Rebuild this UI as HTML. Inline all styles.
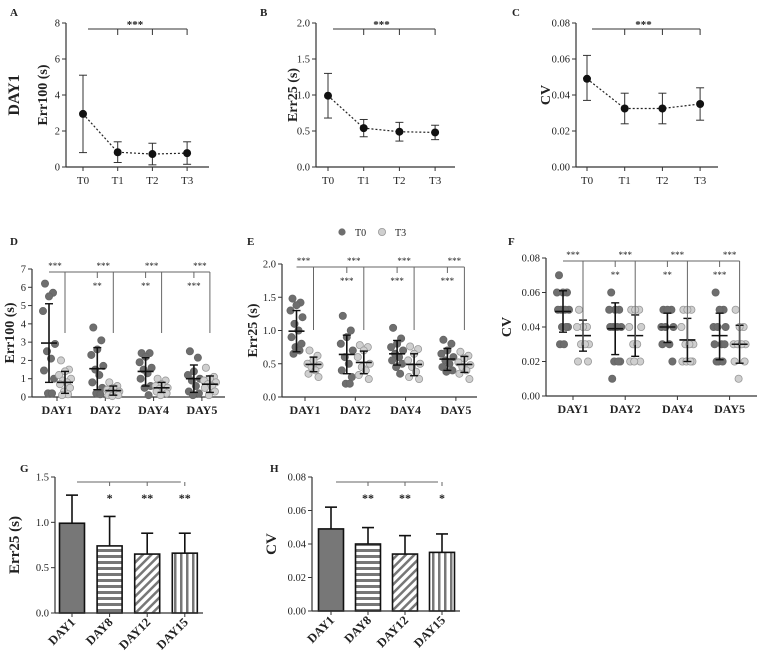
<!DOCTYPE html>
<html><head><meta charset="utf-8">
<style>
html,body{margin:0;padding:0;background:#fff;}
svg{display:block;font-family:"Liberation Serif",serif;}
</style></head>
<body>
<svg id="fig" width="760" height="661" viewBox="0 0 760 661" xmlns="http://www.w3.org/2000/svg">
<defs>
<pattern id="pH" width="6" height="6" patternUnits="userSpaceOnUse"><rect width="6" height="6" fill="#777"/><rect y="0" width="6" height="3" fill="#fff"/></pattern>
<pattern id="pD" width="6" height="6" patternUnits="userSpaceOnUse" patternTransform="rotate(45)"><rect width="6" height="6" fill="#fff"/><rect x="0" width="2.5" height="6" fill="#777"/></pattern>
<pattern id="pV" width="6" height="6" patternUnits="userSpaceOnUse"><rect width="6" height="6" fill="#fff"/><rect x="0" width="2.5" height="6" fill="#777"/></pattern>
</defs>
</svg>
<script>
// ---------- DATA ----------
const catsABC = ['T0','T1','T2','T3'];
const meanA = [2.95,0.82,0.72,0.77];
const loA = [0.8,0.25,0.12,0.15];
const hiA = [5.1,1.4,1.32,1.4];
const meanB = [0.99,0.54,0.49,0.48];
const loB = [0.68,0.42,0.36,0.38];
const hiB = [1.3,0.66,0.62,0.58];
const meanC = [0.049,0.0325,0.0325,0.035];
const loC = [0.037,0.024,0.024,0.026];
const hiC = [0.062,0.041,0.041,0.044];
const ticksA = [0,2,4,6,8];
const ticksB = [0,0.5,1.0,1.5,2.0];
const ticksC = [0,0.02,0.04,0.06,0.08];

const daysDEF = ['DAY1','DAY2','DAY4','DAY5'];
const D_T0 = [[6.2,5.7,5.5,4.7,2.9,2.5,2.1,1.45,1.0,0.2,0.2],[3.8,3.1,2.6,2.3,1.7,1.5,1.2,0.8,0.5,0.2,0.15],[2.4,2.4,2.2,1.9,1.6,1.5,1.3,1.0,0.6,0.5,0.1],[2.5,2.15,1.4,1.2,1.0,0.9,0.6,0.3,0.2,0.1]];
const D_T3 = [[2.0,1.5,1.4,1.2,1.0,0.9,0.8,0.7,0.5,0.3,0.15,0.1],[0.8,0.6,0.5,0.4,0.3,0.3,0.2,0.1,0.1,0.05],[1.0,0.9,0.7,0.6,0.5,0.45,0.35,0.3,0.2,0.1],[1.6,1.1,1.0,0.9,0.8,0.7,0.6,0.5,0.3,0.1]];
const D_mean0 = [2.95,1.55,1.4,1.0], D_lo0=[0.8,0.4,0.6,0.25], D_hi0=[5.1,2.7,2.15,1.75];
const D_mean3 = [0.8,0.35,0.5,0.7], D_lo3=[0.2,0.1,0.25,0.25], D_hi3=[1.4,0.6,0.8,1.15];
const D_ticks = [0,1,2,3,4,5,6,7];
const D_sigTop = ['***','***','***','***'];
const D_sigLow = ['','**','**','***'];

const E_T0 = [[1.48,1.42,1.38,1.3,1.2,1.1,1.0,0.9,0.8,0.75,0.7,0.65],[1.22,1.0,0.9,0.8,0.7,0.6,0.5,0.4,0.3,0.2,0.2],[1.04,0.88,0.8,0.75,0.7,0.65,0.6,0.55,0.5,0.45,0.35],[0.86,0.8,0.7,0.65,0.6,0.55,0.5,0.45,0.4,0.38]];
const E_T3 = [[0.7,0.62,0.55,0.5,0.48,0.45,0.4,0.35,0.3],[0.78,0.75,0.7,0.6,0.5,0.45,0.4,0.33,0.27],[0.76,0.72,0.65,0.55,0.5,0.45,0.38,0.3,0.27],[0.68,0.62,0.58,0.52,0.48,0.45,0.4,0.35,0.27]];
const E_mean0=[0.99,0.64,0.65,0.57], E_lo0=[0.68,0.35,0.48,0.4], E_hi0=[1.3,0.93,0.85,0.73];
const E_mean3=[0.49,0.52,0.49,0.49], E_lo3=[0.38,0.35,0.32,0.37], E_hi3=[0.6,0.69,0.65,0.61];
const E_ticks=[0,0.5,1.0,1.5,2.0];
const E_sigTop=['***','***','***','***'];
const E_sigLow=['','***','***','***'];

const F_T0 = [[0.07,0.06,0.06,0.06,0.05,0.05,0.05,0.05,0.04,0.04,0.04,0.03,0.03],[0.06,0.05,0.05,0.05,0.04,0.04,0.04,0.04,0.02,0.02,0.02,0.01],[0.05,0.05,0.05,0.04,0.04,0.04,0.03,0.03,0.02],[0.06,0.05,0.05,0.04,0.04,0.04,0.03,0.03,0.03,0.02,0.02,0.02]];
const F_T3 = [[0.05,0.04,0.04,0.04,0.03,0.03,0.03,0.02,0.02],[0.05,0.05,0.05,0.04,0.04,0.03,0.03,0.02,0.02,0.02],[0.05,0.05,0.05,0.04,0.03,0.03,0.03,0.02,0.02,0.02,0.02],[0.05,0.04,0.04,0.03,0.03,0.03,0.03,0.02,0.02,0.01]];
const F_mean0=[0.049,0.039,0.04,0.035], F_lo0=[0.037,0.024,0.031,0.021], F_hi0=[0.061,0.054,0.048,0.048];
const F_mean3=[0.035,0.035,0.0325,0.03], F_lo3=[0.026,0.023,0.02,0.019], F_hi3=[0.044,0.047,0.045,0.041];
const F_ticks=[0,0.02,0.04,0.06,0.08];
const F_sigTop=['***','***','***','***'];
const F_sigLow=['','**','**','***'];

const catsGH = ['DAY1','DAY8','DAY12','DAY15'];
const meanG = [0.99,0.74,0.65,0.66];
const errG = [1.3,1.065,0.88,0.88];
const ticksG = [0,0.5,1.0,1.5];
const sigG = ['','*','**','**'];
const meanH = [0.049,0.040,0.034,0.035];
const errH = [0.062,0.0498,0.045,0.046];
const ticksH = [0,0.02,0.04,0.06,0.08];
const sigH = ['','**','**','*'];

// ---------- HELPERS ----------
const svg = document.getElementById('fig');
const NS = 'http://www.w3.org/2000/svg';
function mk(tag, geo, parent){
  const e = document.createElementNS(NS, tag);
  for (const k in geo) e.setAttribute(k, geo[k]);
  (parent || svg).appendChild(e);
  return e;
}
function txt(x,y,s,size,anchor,weight,parent,rot){
  const t = mk('text',{x:x,y:y,'font-size':size,'text-anchor':anchor||'middle','font-weight':weight||'normal',fill:'#222'},parent);
  if (rot) t.setAttribute('transform','rotate('+rot+' '+x+' '+y+')');
  t.textContent = s;
  return t;
}
function line(x1,y1,x2,y2,w,col,parent){
  return mk('line',{x1:x1,y1:y1,x2:x2,y2:y2,stroke:col||'#333','stroke-width':w||1},parent);
}
function fmt(v,dec){ return v.toFixed(dec); }
function yAxis(g,ax,yTop,yBot,ymax,ticks,dec){
  const ys = v => yBot - v/ymax*(yBot-yTop);
  const a = line(ax,yTop,ax,yBot,1.2,'#333',g);
  
  
  ticks.forEach(v=>{
    const tk = line(ax-4,ys(v),ax,ys(v),1,'#333',g);
    
    
    const tl = txt(ax-6,ys(v)+3.5,fmt(v,dec),10.5,'end','normal',g);
    
    
  });
  return ys;
}
function group(name){
  const g = mk('g',{});
  
  
  return g;
}

// ---------- LINE PANELS A B C ----------
function linePanel(name,letter,lx,cfg,means,los,his,ticks,dec,ylab,extra){
  const g = group(name);
  const L = txt(lx,16,letter,11,'start','bold',g);
  
  
  const ys = yAxis(g,cfg.ax,cfg.yTop,cfg.yBot,ticks[ticks.length-1],ticks,dec);
  const xa = line(cfg.ax,cfg.yBot,cfg.axEnd,cfg.yBot,1.2,'#333',g);
  
  
  const xs = i => cfg.x0 + i*cfg.step;
  catsABC.forEach((c,i)=>{
    const tk = line(xs(i),cfg.yBot,xs(i),cfg.yBot+4,1,'#333',g);
    
    
    const tl = txt(xs(i),cfg.yBot+17,c,11,'middle','normal',g);
    
    
  });
  const yl = txt(cfg.ax-cfg.ylOff,(cfg.yTop+cfg.yBot)/2,ylab,14,'middle','bold',g,-90);
  
  
  const pts = means.map((m,i)=>xs(i)+','+ys(m)).join(' ');
  const pl = mk('polyline',{points:pts,fill:'none',stroke:'#222','stroke-width':1.2,'stroke-dasharray':'2,2'},g);
  
  
  means.forEach((m,i)=>{
    const x = xs(i);
    const e1 = line(x,ys(los[i]),x,ys(his[i]),1,'#333',g);
    
    
    const c1 = line(x-4,ys(los[i]),x+4,ys(los[i]),1,'#333',g);
    
    
    const c2 = line(x-4,ys(his[i]),x+4,ys(his[i]),1,'#333',g);
    
    
    const d = mk('circle',{cx:x,cy:ys(m),r:4,fill:'#111'},g);
    
    
  });
  const by = cfg.yTop+6;
  const br = line(xs(0)+5,by,xs(3),by,1,'#333',g);
  
  
  [1,2,3].forEach(i=>{
    const t = line(xs(i),by,xs(i),by+6,1,'#333',g);
    
    
  });
  const st = txt((xs(1)+xs(2))/2,by-1,'***',11,'middle','bold',g);
  
  
  if (extra) {
    const r = txt(extra.x,extra.y,extra.s,16,'middle','bold',g,-90);
    
    
  }
}
linePanel('panel-a','A',10,{ax:66,axEnd:209,yTop:23,yBot:167,x0:83,step:34.7,ylOff:19},meanA,loA,hiA,ticksA,0,'Err100 (s)',{x:19,y:95,s:'DAY1'});
linePanel('panel-b','B',260,{ax:316,axEnd:455,yTop:23,yBot:167,x0:328,step:35.7,ylOff:19},meanB,loB,hiB,ticksB,1,'Err25 (s)');
linePanel('panel-c','C',512,{ax:576,axEnd:718,yTop:23,yBot:167,x0:587,step:37.7,ylOff:26},meanC,loC,hiC,ticksC,2,'CV');

// ---------- SCATTER PANELS D E F ----------
const jit = [-4,4,0,-6,6,-2,2,-5,5,-1,3,-3,1];
function scatterPanel(name,letter,lx,ly,cfg,t0,t3,m0,lo0,hi0,m3,lo3,hi3,ticks,dec,ylab,sigTop,sigLow){
  const g = group(name);
  const L = txt(lx,ly,letter,11,'start','bold',g);
  
  
  const ymax = ticks[ticks.length-1];
  const ys = yAxis(g,cfg.ax,cfg.yTop,cfg.yBot,ymax,ticks,dec);
  const xa = line(cfg.ax,cfg.yBot,cfg.axEnd,cfg.yBot,1.2,'#333',g);
  
  
  const xc = i => cfg.c0 + i*cfg.step;
  daysDEF.forEach((d,i)=>{
    const tk = line(xc(i),cfg.yBot,xc(i),cfg.yBot+4,1,'#333',g);
    
    
    const tl = txt(xc(i),cfg.yBot+17,d,12,'middle','bold',g);
    
    
  });
  const yl = txt(cfg.ax-cfg.ylOff,(cfg.yTop+cfg.yBot)/2,ylab,14,'middle','bold',g,-90);
  
  
  function series(vals,mean,lo,hi,off,fill,stroke,tag){
    vals.forEach((arr,i)=>{
      const cx = xc(i)+off;
      arr.forEach((v,j)=>{
        const c = mk('circle',{cx:cx+jit[j%jit.length],cy:ys(v),r:3.6,fill:fill,stroke:stroke,'stroke-width':0.8},g);
        
        
      });
      const e = line(cx,ys(lo[i]),cx,ys(hi[i]),1.6,'#111',g);
      
      
      const m = line(cx-8,ys(mean[i]),cx+8,ys(mean[i]),1.6,'#111',g);
      
      
      const a = line(cx-4,ys(lo[i]),cx+4,ys(lo[i]),1.4,'#111',g);
      
      
      const b = line(cx-4,ys(hi[i]),cx+4,ys(hi[i]),1.4,'#111',g);
      
      
    });
  }
  series(t0,m0,lo0,hi0,-cfg.off,'#6e6e6e','#666','T0');
  series(t3,m3,lo3,hi3,cfg.off,'#cfcfcf','#999','T3');
  const by = cfg.yTop+3;
  const br = line(xc(0)-cfg.off,by,xc(3)+cfg.off,by,1,'#666',g);
  
  
  daysDEF.forEach((d,i)=>{
    const xr = xc(i)+cfg.off;
    const dr = line(xr,by,xr,cfg.dropY,1,'#666',g);
    
    
    const s1 = txt(xr-10,by-3,sigTop[i],9,'middle','normal',g);
    
    
    if (sigLow[i]) {
      const xl = xc(i)-cfg.off;
      const tk = line(xl,by,xl,by+6,1,'#666',g);
      
      
      const s2 = txt(xl,by+17,sigLow[i],9,'middle','normal',g);
      
      
    }
  });
}
scatterPanel('panel-d','D',10,245,{ax:32,axEnd:225,yTop:269,yBot:397,c0:57,step:48.3,off:8,dropY:333,ylOff:18},D_T0,D_T3,D_mean0,D_lo0,D_hi0,D_mean3,D_lo3,D_hi3,D_ticks,0,'Err100 (s)',D_sigTop,D_sigLow);
scatterPanel('panel-e','E',247,245,{ax:282,axEnd:477,yTop:264,yBot:397,c0:305,step:50.3,off:8.5,dropY:330,ylOff:25},E_T0,E_T3,E_mean0,E_lo0,E_hi0,E_mean3,E_lo3,E_hi3,E_ticks,1,'Err25 (s)',E_sigTop,E_sigLow);
scatterPanel('panel-f','F',508,245,{ax:546,axEnd:757,yTop:258,yBot:396,c0:573,step:52.2,off:10,dropY:345,ylOff:35},F_T0,F_T3,F_mean0,F_lo0,F_hi0,F_mean3,F_lo3,F_hi3,F_ticks,2,'CV',F_sigTop,F_sigLow);

(function(){
  const g = group('legend');
  const a = mk('circle',{cx:342,cy:232,r:3.6,fill:'#6e6e6e'},g);
  
  
  const at = txt(355,236,'T0',10,'start','normal',g);
  
  
  const b = mk('circle',{cx:382,cy:232,r:3.6,fill:'#cfcfcf',stroke:'#999','stroke-width':0.8},g);
  
  
  const bt = txt(395,236,'T3',10,'start','normal',g);
  
  
})();

// ---------- BAR PANELS G H ----------
const fills = ['#777','url(#pH)','url(#pD)','url(#pV)'];
function barPanel(name,letter,lx,cfg,means,errs,ticks,dec,ylab,sig){
  const g = group(name);
  const L = txt(lx,472,letter,11,'start','bold',g);
  
  
  const ymax = ticks[ticks.length-1];
  const ys = yAxis(g,cfg.ax,cfg.yTop,cfg.yBot,ymax,ticks,dec);
  const xc = i => cfg.c0 + i*cfg.step;
  means.forEach((m,i)=>{
    const x = xc(i);
    const e = line(x,ys(errs[i]),x,ys(m),1.6,'#111',g);
    
    
    const c = line(x-6,ys(errs[i]),x+6,ys(errs[i]),1.6,'#111',g);
    
    
    const r = mk('rect',{x:x-12.5,y:ys(m),width:25,height:cfg.yBot-ys(m),fill:fills[i],stroke:'#111','stroke-width':1.6},g);
    
    
    const tk = line(x,cfg.yBot,x,cfg.yBot+4,1,'#333',g);
    
    
    const tl = txt(x+4,cfg.yBot+10,catsGH[i],12.5,'end','bold',g,-45);
    
    
    if (sig[i]) {
      const s = txt(x,cfg.yTop+25,sig[i],12,'middle','bold',g);
      
      
      const t = line(x,cfg.yTop+5,x,cfg.yTop+9,1,'#666',g);
      
      
    }
  });
  const xa = line(cfg.ax,cfg.yBot,cfg.axEnd,cfg.yBot,1.2,'#333',g);
  
  
  const br = line(xc(0)+5,cfg.yTop+5,xc(3)-4,cfg.yTop+5,1,'#666',g);
  
  
  const yl = txt(cfg.ax-cfg.ylOff,(cfg.yTop+cfg.yBot)/2,ylab,15,'middle','bold',g,-90);
  
  
}
barPanel('panel-g','G',20,{ax:55,axEnd:203,yTop:477,yBot:613,c0:72,step:37.6,ylOff:36},meanG,errG,ticksG,1,'Err25 (s)',sigG);
barPanel('panel-h','H',270,{ax:312,axEnd:460,yTop:477,yBot:611,c0:331,step:37,ylOff:36},meanH,errH,ticksH,2,'CV',sigH);
</script>
</body></html>
